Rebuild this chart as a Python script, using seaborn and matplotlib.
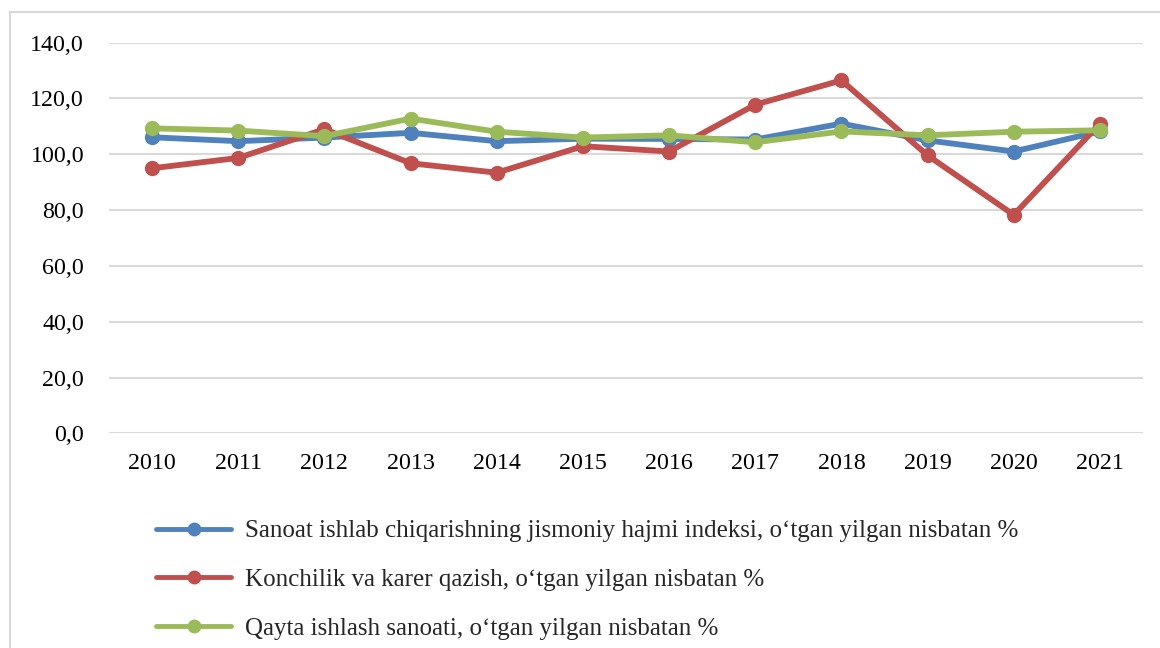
import numpy as np
import pandas as pd
import seaborn as sns
import matplotlib.pyplot as plt
from matplotlib.patches import Rectangle

# data
years = [2010, 2011, 2012, 2013, 2014, 2015, 2016, 2017, 2018, 2019, 2020, 2021]
sanoat = [106.1, 104.7, 106.0, 107.7, 104.7, 105.6, 105.5, 105.3, 111.0, 105.0, 101.0, 108.2]
konchilik = [95.0, 98.7, 109.0, 96.8, 93.4, 102.9, 101.0, 117.8, 126.5, 99.6, 78.3, 111.0]
qayta = [109.3, 108.5, 106.5, 112.8, 108.1, 106.0, 106.8, 104.3, 108.2, 106.8, 108.1, 108.6]

labels = ["Sanoat ishlab chiqarishning jismoniy hajmi indeksi, o‘tgan yilgan nisbatan %",
          "Konchilik va karer qazish, o‘tgan yilgan nisbatan %",
          "Qayta ishlash sanoati, o‘tgan yilgan nisbatan %"]
colors = ["#4F81BD", "#C0504D", "#9BBB59"]

df = pd.DataFrame({"year": years * 3,
                   "value": sanoat + konchilik + qayta,
                   "series": np.repeat(labels, len(years))})

sns.set_theme(style="white")
plt.rcParams['font.family'] = ['Liberation Serif', 'DejaVu Serif']

fig = plt.figure(figsize=(11.6, 6.48), dpi=100)
ax = fig.add_axes([109/1160, 1 - 433.3/648, (1143-109)/1160, (433.3-42.7)/648])

sns.lineplot(data=df, x="year", y="value", hue="series", palette=colors,
             marker="o", markersize=11, markeredgewidth=0, linewidth=4.2,
             ax=ax, legend=False)

ax.set_xlim(2009.5, 2021.5)
ax.set_ylim(0, 140)
ax.set_xticks(years)
ax.set_xticklabels([str(y) for y in years])
yt = np.arange(0, 141, 20)
ax.set_yticks(yt)
ax.set_yticklabels([f"{v:.1f}".replace(".", ",") for v in yt])
ax.set_xlabel("")
ax.set_ylabel("")
ax.tick_params(axis='both', length=0, labelsize=17.3, colors="#000000")
ax.tick_params(axis='y', pad=18)
ax.tick_params(axis='x', pad=14)
ax.grid(axis='y', color="#D9D9D9", linewidth=1.5)
ax.set_axisbelow(True)
for s in ax.spines.values():
    s.set_visible(False)

# legend below the plot
handles = [plt.Line2D([], [], color=c, linewidth=3.5, marker='o', markersize=10,
                      markeredgewidth=0) for c in colors]
fig.legend(handles, labels, loc='upper left', bbox_to_anchor=(156/1160, 1 - 520/648),
           frameon=False, fontsize=18, handlelength=3.0, handletextpad=0.55,
           labelspacing=1.04, borderaxespad=0, borderpad=0)

# chart border
fig.patches.append(Rectangle((10/1160, -0.1), 1.2, 1 - 12/648 + 0.1,
                             transform=fig.transFigure, fill=False,
                             edgecolor="#D9D9D9", linewidth=1.5))

plt.savefig("out.png", dpi=100)
